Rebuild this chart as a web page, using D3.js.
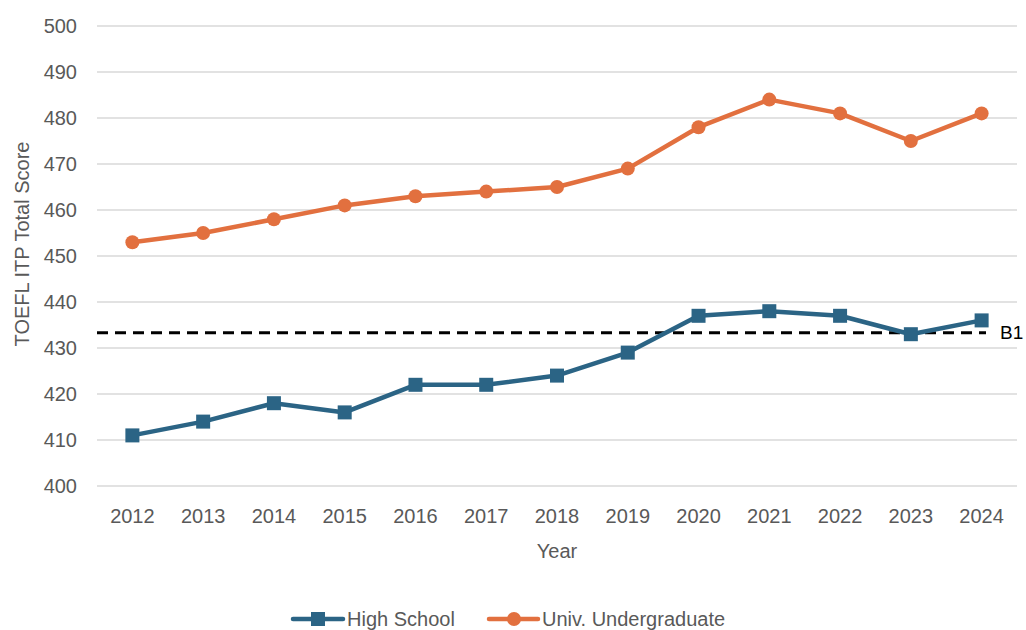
<!DOCTYPE html>
<html><head><meta charset="utf-8">
<script src="https://cdn.jsdelivr.net/npm/d3@7"></script>
<style>body{margin:0;background:#fff}svg{display:block}text{font-family:"Liberation Sans",Arial,sans-serif}</style>
</head><body><svg id="c" width="1026" height="630"></svg>
<script>
const years = ["2012","2013","2014","2015","2016","2017","2018","2019","2020","2021","2022","2023","2024"];
const highSchool = [411,414,418,416,422,422,424,429,437,438,437,433,436];
const univ = [453,455,458,461,463,464,465,469,478,484,481,475,481];
const yTicks = [400,410,420,430,440,450,460,470,480,490,500];
const b1Value = 433.3;
const seriesNames = ["High School","Univ. Undergraduate"];

const svg = d3.select("#c");
const blue = "#2B6485", orange = "#E2703F", grey = "#595959";
const x = d3.scaleBand().domain(years).range([97,1017]).padding(0);
const y = d3.scaleLinear().domain([400,500]).range([486,26]);
const cx = d => x(d) + x.bandwidth()/2;

// gridlines
svg.append("g").selectAll("line").data(yTicks).join("line")
  .attr("x1",97).attr("x2",1017).attr("y1",d=>y(d)).attr("y2",d=>y(d))
  .attr("stroke","#d9d9d9").attr("stroke-width",1.3);

// y tick labels
svg.append("g").selectAll("text").data(yTicks).join("text")
  .attr("x",77).attr("y",d=>y(d)).attr("dy","0.35em").attr("text-anchor","end")
  .attr("fill",grey).attr("font-size",20).text(d=>d);

// x tick labels
svg.append("g").selectAll("text").data(years).join("text")
  .attr("x",d=>cx(d)).attr("y",523).attr("text-anchor","middle")
  .attr("fill",grey).attr("font-size",20).text(d=>d);

// axis titles
svg.append("text").attr("x",557).attr("y",558).attr("text-anchor","middle")
  .attr("fill",grey).attr("font-size",20).text("Year");
svg.append("text").attr("transform","translate(29,244) rotate(-90)").attr("text-anchor","middle")
  .attr("fill",grey).attr("font-size",20).text("TOEFL ITP Total Score");

// B1 dashed line
svg.append("line").attr("x1",97).attr("x2",986).attr("y1",y(b1Value)).attr("y2",y(b1Value))
  .attr("stroke","#000").attr("stroke-width",3).attr("stroke-dasharray","11,7");
svg.append("text").attr("x",1000).attr("y",y(b1Value)).attr("dy","0.35em")
  .attr("fill","#000").attr("font-size",19).attr("font-family","DejaVu Sans").text("B1");

const line = d3.line().x((d,i)=>cx(years[i])).y(d=>y(d));
// High school
svg.append("path").datum(highSchool).attr("d",line).attr("fill","none")
  .attr("stroke",blue).attr("stroke-width",4.5).attr("stroke-linejoin","round");
svg.append("g").selectAll("rect").data(highSchool).join("rect")
  .attr("x",(d,i)=>cx(years[i])-7).attr("y",d=>y(d)-7).attr("width",14).attr("height",14).attr("fill",blue);
// Univ
svg.append("path").datum(univ).attr("d",line).attr("fill","none")
  .attr("stroke",orange).attr("stroke-width",4.5).attr("stroke-linejoin","round");
svg.append("g").selectAll("circle").data(univ).join("circle")
  .attr("cx",(d,i)=>cx(years[i])).attr("cy",d=>y(d)).attr("r",7).attr("fill",orange);

// legend
const ly = 619;
const lg = svg.append("g");
lg.append("line").attr("x1",293).attr("x2",343).attr("y1",ly).attr("y2",ly).attr("stroke",blue).attr("stroke-width",4.5).attr("stroke-linecap","round");
lg.append("rect").attr("x",311).attr("y",ly-7).attr("width",14).attr("height",14).attr("fill",blue);
lg.append("text").attr("x",347).attr("y",ly).attr("dy","0.35em").attr("fill",grey).attr("font-size",20).text(seriesNames[0]);
lg.append("line").attr("x1",489).attr("x2",538).attr("y1",ly).attr("y2",ly).attr("stroke",orange).attr("stroke-width",4.5).attr("stroke-linecap","round");
lg.append("circle").attr("cx",514).attr("cy",ly).attr("r",7).attr("fill",orange);
lg.append("text").attr("x",542).attr("y",ly).attr("dy","0.35em").attr("fill",grey).attr("font-size",20).text(seriesNames[1]);
</script></body></html>
